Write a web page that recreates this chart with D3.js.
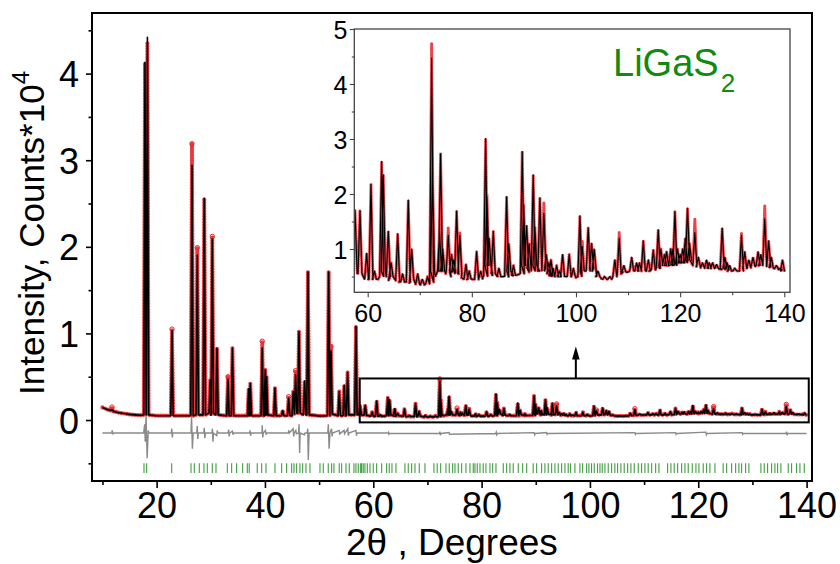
<!DOCTYPE html>
<html><head><meta charset="utf-8">
<script src="https://cdnjs.cloudflare.com/ajax/libs/d3/7.8.5/d3.min.js"></script>
<style>body{margin:0;background:#fff}svg{display:block;font-family:"Liberation Sans",Arial,sans-serif}</style>
</head><body><svg id="c" width="840" height="564"></svg>
<script>
// ---- data (intensity in units of 10^4 counts, position in degrees 2theta) ----
// background knots [2theta, level]
const bgKnots = [[10,0.145],[11,0.12],[12,0.1],[13,0.085],[14,0.075],[15,0.065],[16,0.06],[17,0.055],[20,0.05],[25,0.05],[30,0.055],[35,0.05],[40,0.05],[45,0.05],[50,0.048],[55,0.05],[57,0.06],
 [58,0.055],[60,0.045],[62,0.045],[64,0.043],[66,0.04],[68,0.038],[70,0.035],[71,0.036],[73,0.05],[75,0.055],[76,0.05],[78,0.048],[79,0.045],[80,0.045],[82,0.048],[84,0.052],[85,0.05],[86,0.05],[88,0.052],[91,0.058],[93,0.06],[95,0.052],[97,0.05],[99,0.05],[100,0.048],[104,0.05],[105,0.045],[106,0.045],[107,0.048],[109,0.058],[110,0.058],[112,0.06],[114,0.06],[116,0.065],[118,0.07],[120,0.075],[122,0.078],[124,0.07],[126,0.065],[128,0.063],[130,0.06],[131,0.06],[133,0.066],[135,0.07],[138,0.065],[140,0.06]];
// reflections [2theta, calculated top, observed top, local base]
const peaksLow = [[11.75,0.12,0.15,0.11],[17.85,4.13,4.12,0.06],[18.3,4.42,4.35,0.06],[22.84,1.03,1.05,0.05],[26.53,2.94,3.19,0.05],[27.51,1.905,1.99,0.06],[28.8,2.56,2.56,0.06],[29.9,0.46,0.46,0.08],[30.28,2.09,2.12,0.08],[31.14,0.83,0.83,0.06],[33.17,0.47,0.5,0.05],[34.0,0.83,0.83,0.05],[37.0,0.36,0.36,0.05],[37.3,0.42,0.42,0.05],[39.5,0.83,0.91,0.05],[40.06,0.58,0.58,0.06],[40.3,0.5,0.5,0.06],[41.85,0.37,0.37,0.05],[43.27,0.11,0.11,0.05],[44.38,0.25,0.27,0.05],[45.23,0.33,0.33,0.07],[45.66,0.52,0.57,0.08],[46.28,1.02,1.02,0.08],[47.33,0.45,0.45,0.06],[47.94,1.71,1.71,0.06],[51.76,1.71,1.71,0.05],[52.2,0.8,0.85,0.07],[53.72,0.33,0.33,0.05],[54.64,0.4,0.4,0.05],[55.26,0.55,0.55,0.06],[56.8,1.08,1.08,0.06]];
const peaksHigh = [[57.56,0.171,0.171,0.065],[58.52,0.17,0.17,0.055],[59.8,0.092,0.092,0.045],[60.63,0.218,0.218,0.045],[61.3,0.06,0.06,0.045],[62.68,0.259,0.259,0.05],[63.0,0.235,0.235,0.06],[63.96,0.132,0.132,0.05],[64.5,0.075,0.075,0.05],[65.76,0.127,0.127,0.043],[66.7,0.055,0.055,0.04],[67.8,0.189,0.189,0.04],[68.45,0.1,0.1,0.045],[69.6,0.055,0.055,0.036],[70.5,0.045,0.045,0.035],[71.5,0.05,0.05,0.036],[72.28,0.447,0.474,0.04],[72.45,0.24,0.24,0.06],[73.8,0.13,0.13,0.06],[74.0,0.273,0.273,0.06],[74.4,0.1,0.1,0.06],[75.47,0.125,0.138,0.06],[76.1,0.09,0.09,0.06],[76.5,0.08,0.08,0.058],[77.08,0.169,0.169,0.055],[77.7,0.125,0.13,0.055],[78.87,0.072,0.072,0.045],[79.5,0.06,0.06,0.045],[80.92,0.095,0.095,0.045],[81.7,0.06,0.06,0.046],[82.65,0.301,0.301,0.05],[82.9,0.195,0.2,0.07],[83.3,0.12,0.12,0.07],[84.12,0.132,0.132,0.055],[85.2,0.065,0.065,0.05],[86.68,0.195,0.195,0.05],[87.1,0.11,0.11,0.06],[88.0,0.07,0.07,0.052],[89.68,0.277,0.277,0.055],[89.95,0.18,0.18,0.07],[90.52,0.142,0.142,0.07],[91.0,0.11,0.11,0.065],[91.79,0.235,0.235,0.06],[92.1,0.14,0.14,0.07],[93.07,0.193,0.193,0.06],[93.84,0.165,0.185,0.065],[94.3,0.09,0.09,0.06],[94.8,0.075,0.075,0.055],[95.2,0.08,0.08,0.052],[95.6,0.065,0.065,0.05],[96.28,0.07,0.07,0.05],[96.8,0.06,0.06,0.05],[97.43,0.09,0.09,0.05],[98.7,0.09,0.09,0.05],[99.5,0.065,0.065,0.05],[100.75,0.16,0.16,0.05],[101.2,0.105,0.115,0.06],[102.35,0.138,0.138,0.06],[103.0,0.11,0.11,0.065],[103.5,0.1,0.1,0.06],[104.2,0.06,0.06,0.05],[105.5,0.05,0.05,0.045],[106.5,0.05,0.05,0.045],[107.47,0.08,0.08,0.05],[108.3,0.12,0.13,0.055],[109.2,0.07,0.07,0.058],[110.7,0.085,0.085,0.06],[111.65,0.075,0.075,0.06],[112.2,0.075,0.075,0.06],[112.93,0.115,0.115,0.06],[113.9,0.08,0.08,0.06],[114.85,0.098,0.098,0.062],[115.8,0.135,0.135,0.065],[116.3,0.1,0.1,0.07],[117.0,0.09,0.09,0.07],[117.4,0.095,0.095,0.07],[118.2,0.1,0.1,0.07],[118.6,0.1,0.1,0.072],[119.0,0.168,0.168,0.07],[119.5,0.1,0.1,0.075],[120.0,0.09,0.09,0.075],[120.5,0.1,0.1,0.075],[121.0,0.12,0.12,0.075],[121.42,0.174,0.174,0.08],[121.8,0.11,0.11,0.08],[122.83,0.13,0.155,0.07],[123.5,0.085,0.085,0.068],[124.3,0.075,0.075,0.066],[125.07,0.08,0.08,0.065],[125.6,0.075,0.075,0.065],[126.23,0.075,0.075,0.065],[127.0,0.072,0.072,0.064],[128.08,0.138,0.138,0.065],[128.6,0.085,0.085,0.065],[129.0,0.075,0.075,0.063],[129.5,0.07,0.07,0.06],[130.5,0.065,0.065,0.06],[131.78,0.125,0.13,0.06],[132.4,0.095,0.095,0.065],[133.2,0.08,0.08,0.066],[134.0,0.085,0.085,0.068],[134.97,0.095,0.095,0.07],[135.5,0.09,0.09,0.07],[136.25,0.155,0.18,0.07],[137.0,0.115,0.115,0.068],[137.5,0.085,0.085,0.066],[138.5,0.07,0.07,0.064],[139.2,0.065,0.065,0.062],[139.66,0.08,0.08,0.06]];
// difference curve (obs - calc, shifted) vertices
const diffPts = [[10,-0.15],[11.7,-0.15],[11.8,-0.12],[11.95,-0.16],[12.2,-0.15],[17.6,-0.15],[17.8,-0.05],[17.9,-0.25],[18.05,0.05],[18.25,-0.44],[18.45,-0.12],[18.6,-0.15],[22.7,-0.15],[22.8,-0.1],[22.9,-0.2],[23.0,-0.15],[26.35,-0.15],[26.45,0.04],[26.6,-0.33],[26.75,-0.15],[27.4,-0.15],[27.5,-0.07],[27.6,-0.22],[27.7,-0.15],[28.7,-0.15],[28.8,-0.09],[28.9,-0.21],[29.0,-0.15],[30.2,-0.15],[30.3,-0.1],[30.4,-0.25],[30.5,-0.15],[31.1,-0.18],[31.2,-0.12],[31.3,-0.15],[33.2,-0.15],[33.3,-0.11],[33.4,-0.19],[33.5,-0.15],[34.0,-0.13],[34.1,-0.17],[34.2,-0.15],[37.2,-0.15],[37.25,-0.12],[37.35,-0.18],[37.45,-0.15],[39.45,-0.15],[39.5,-0.06],[39.6,-0.2],[39.7,-0.15],[40.1,-0.12],[40.2,-0.17],[40.3,-0.15],[44.3,-0.15],[44.4,-0.12],[44.5,-0.15],[45.2,-0.1],[45.3,-0.19],[45.4,-0.15],[45.7,-0.12],[45.8,-0.16],[46.2,-0.15],[46.3,-0.05],[46.4,-0.38],[46.5,-0.15],[47.3,-0.17],[47.4,-0.15],[47.8,-0.15],[47.9,-0.1],[48.0,-0.46],[48.15,-0.15],[51.6,-0.15],[51.7,-0.05],[51.85,-0.33],[52.0,-0.15],[52.3,-0.1],[52.4,-0.19],[52.5,-0.15],[53.7,-0.12],[53.8,-0.16],[54.6,-0.12],[54.7,-0.16],[55.3,-0.1],[55.4,-0.18],[55.5,-0.15],[56.8,-0.12],[56.9,-0.18],[57.0,-0.15],[62.7,-0.15],[62.8,-0.14],[62.9,-0.165],[63.0,-0.155],[72.2,-0.155],[72.3,-0.135],[72.4,-0.175],[72.5,-0.155],[74.0,-0.145],[74.1,-0.165],[82.6,-0.155],[82.7,-0.14],[82.8,-0.17],[82.9,-0.155],[89.7,-0.145],[89.8,-0.17],[89.9,-0.155],[92.0,-0.145],[92.1,-0.165],[92.2,-0.155],[108.3,-0.145],[108.4,-0.165],[108.5,-0.155],[115.8,-0.145],[115.9,-0.165],[116,-0.155],[121.4,-0.14],[121.5,-0.17],[121.6,-0.155],[128.1,-0.145],[128.2,-0.165],[128.3,-0.155],[136.2,-0.155],[136.3,-0.135],[136.4,-0.175],[136.5,-0.155],[140,-0.155]];
// Bragg reflection positions (green ticks)
const braggPos = [17.67,18.16,22.78,26.35,26.96,27.88,28.74,29.36,30.28,30.96,33.05,33.85,34.77,35.88,36.74,37.1,38.58,39.39,40.19,41.85,43.08,44.0,44.93,45.36,45.85,46.46,46.96,47.57,48.31,50.16,50.77,51.69,52.31,52.74,53.72,54.16,54.96,55.57,56.43,56.8,57.23,57.67,58.15,58.9,
 57.85,58.46,59.39,60.0,60.62,61.55,62.47,62.95,63.45,64.19,65.85,66.46,67.08,67.7,68.49,69.54,71.2,71.81,72.44,73.42,74.03,74.65,75.08,75.69,76.31,77.11,77.85,78.46,78.77,79.2,79.7,80.3,80.8,81.54,82.04,82.65,84.0,84.62,85.23,85.84,86.77,87.58,88.32,89.53,90.16,91.08,91.69,92.3,92.93,93.54,94.15,94.77,95.39,95.99,96.43,97.23,98.15,98.65,99.39,
 99.81,100.3,100.8,101.4,101.85,102.27,102.77,103.38,104.0,104.6,105.1,105.72,106.33,106.96,107.57,108.18,108.92,109.54,110.15,110.76,111.39,112.13,112.74,114.34,114.95,115.56,116.19,116.93,117.54,118.15,118.89,119.57,120.12,120.92,121.54,122.15,123.08,124.6,125.24,126.16,126.9,127.5,128.0,128.74,129.35,131.57,132.18,132.8,133.54,134.15,134.65,135.26,136.61,137.23,138.15,138.77,139.57];
const mainXTicks = [20,40,60,80,100,120,140];
const mainXMinor = [10,30,50,70,90,110,130];
const mainYTicks = [0,1,2,3,4];
const mainYMinor = [-0.5,0.5,1.5,2.5,3.5,4.5];
const insetXTicks = [60,80,100,120,140];
const insetXMinor = [70,90,110,130];
const insetYTicks = [0.1,0.2,0.3,0.4,0.5];   // shown in units of 10^3
const insetYMinor = [0.05,0.15,0.25,0.35,0.45];

// ---- drawing ----
const svg = d3.select("#c");
const FONT = '"Liberation Sans",Arial,sans-serif';

function buildSeries(knots, peaks, w, idx, lo, hi){
  const items = knots.map(k=>({x:k[0],pts:[[k[0],k[1]]]}))
    .concat(peaks.map(p=>({x:p[0],pts:[[p[0]-w,p[3]],[p[0],p[idx]],[p[0]+w,p[3]]]})));
  items.sort((a,b)=>a.x-b.x);
  return items.filter(d=>d.x>=lo&&d.x<=hi).flatMap(d=>d.pts);
}
const allPeaks = peaksLow.concat(peaksHigh);

// main scales
const x = d3.scaleLinear().domain([8.07,141.0]).range([92,812]);
const y = d3.scaleLinear().domain([-0.704,4.70]).range([481,13]);

const gMain = svg.append("g");
gMain.append("defs").append("clipPath").attr("id","clipMain").append("rect")
  .attr("x",92).attr("y",13).attr("width",720).attr("height",468);
const dm = gMain.append("g").attr("clip-path","url(#clipMain)");
const lineM = d3.line().x(d=>x(d[0])).y(d=>y(d[1]));
const obsM = buildSeries(bgKnots, allPeaks, 0.22, 2, 0, 200);
const calcM = buildSeries(bgKnots, allPeaks, 0.22, 1, 0, 200);
dm.append("path").attr("d",lineM(obsM)).attr("fill","none").attr("stroke","#e4252b")
  .attr("stroke-width",4.2).attr("stroke-linecap","round").attr("stroke-dasharray","0 2.8").attr("opacity",0.9);
dm.selectAll("circle.obs").data(allPeaks.filter(p=>p[2]>p[1]+0.005)).join("circle")
  .attr("cx",d=>x(d[0])).attr("cy",d=>y(d[2])).attr("r",2.2).attr("fill","none").attr("stroke","#e4252b").attr("stroke-width",1);
dm.append("path").attr("d",lineM(calcM)).attr("fill","none").attr("stroke","#000").attr("stroke-width",1.6).attr("stroke-linejoin","round");
dm.append("path").attr("d",lineM(diffPts)).attr("fill","none").attr("stroke","#8a8a8a").attr("stroke-width",1.4);
dm.selectAll("line.bragg").data(braggPos).join("line")
  .attr("x1",d=>x(d)).attr("x2",d=>x(d)).attr("y1",y(-0.5)).attr("y2",y(-0.612))
  .attr("stroke","#1f8f1f").attr("stroke-width",1.1).attr("opacity",0.85);

// zoom box + arrow
gMain.append("rect").attr("x",x(57.5)).attr("y",y(0.48)).attr("width",x(140.4)-x(57.5)).attr("height",y(-0.027)-y(0.48))
  .attr("fill","none").attr("stroke","#000").attr("stroke-width",2);
const ax = x(97.4);
gMain.append("line").attr("x1",ax).attr("x2",ax).attr("y1",y(0.48)).attr("y2",y(0.80)).attr("stroke","#000").attr("stroke-width",2);
gMain.append("path").attr("d",`M${ax},${y(0.85)} L${ax-3.8},${y(0.85)+13} L${ax+3.8},${y(0.85)+13} Z`).attr("fill","#000");

// main frame and axes
gMain.append("rect").attr("x",92).attr("y",13).attr("width",720).attr("height",468).attr("fill","none").attr("stroke","#000").attr("stroke-width",2);
const gx = gMain.append("g").attr("transform","translate(0,481)");
gx.call(d3.axisBottom(x).tickValues(mainXTicks).tickSize(7).tickFormat(d3.format("d")));
gx.append("g").call(d3.axisBottom(x).tickValues(mainXMinor).tickSize(4).tickFormat(""));
gx.selectAll(".domain").remove();
gx.selectAll("line").attr("stroke","#000").attr("stroke-width",1.6);
gx.selectAll("text").attr("font-family",FONT).attr("font-size",36).attr("fill","#000").attr("y",11).attr("dy","0.71em");
const gy = gMain.append("g").attr("transform","translate(92,0)");
gy.call(d3.axisLeft(y).tickValues(mainYTicks).tickSize(6).tickFormat(d3.format("d")));
gy.append("g").call(d3.axisLeft(y).tickValues(mainYMinor).tickSize(3.5).tickFormat(""));
gy.selectAll(".domain").remove();
gy.selectAll("line").attr("stroke","#000").attr("stroke-width",1.6);
gy.selectAll("text").attr("font-family",FONT).attr("font-size",36).attr("fill","#000").attr("x",-13).attr("dy","0.36em");

// axis titles
const yt = svg.append("text").attr("transform","translate(44,395) rotate(-90)").attr("font-family",FONT).attr("font-size",35).attr("fill","#000");
yt.append("tspan").text("Intensity, Counts*10");
yt.append("tspan").attr("font-size",24).attr("dy",-15).text("4");
svg.append("text").attr("x",346).attr("y",555).attr("font-family",FONT).attr("font-size",37).attr("fill","#000").text("2θ , Degrees");

// ---- inset ----
const xi = d3.scaleLinear().domain([57.43,141.1]).range([354.3,790]);
const yi = d3.scaleLinear().domain([0.0213,0.5]).range([292.3,29]);
const gI = svg.append("g");
gI.append("rect").attr("x",354.3).attr("y",29).attr("width",435.7).attr("height",263.3).attr("fill","#fff");
gI.append("defs").append("clipPath").attr("id","clipIn").append("rect")
  .attr("x",354.3).attr("y",29).attr("width",435.7).attr("height",263.3);
const di = gI.append("g").attr("clip-path","url(#clipIn)");
const lineI = d3.line().x(d=>xi(d[0])).y(d=>yi(d[1]));
const obsI = buildSeries(bgKnots, peaksHigh, 0.38, 2, 56, 142);
const calcI = buildSeries(bgKnots, peaksHigh, 0.38, 1, 56, 142);
di.append("path").attr("d",lineI(obsI)).attr("fill","none").attr("stroke","#e4252b")
  .attr("stroke-width",3.2).attr("stroke-linecap","round").attr("stroke-dasharray","0 2.3").attr("opacity",0.85);
di.append("path").attr("d",lineI(calcI)).attr("fill","none").attr("stroke","#000").attr("stroke-width",1.1).attr("stroke-linejoin","round");
gI.append("rect").attr("x",354.3).attr("y",29).attr("width",435.7).attr("height",263.3).attr("fill","none").attr("stroke","#444").attr("stroke-width",1.3);
const gxi = gI.append("g").attr("transform","translate(0,292.3)");
gxi.call(d3.axisBottom(xi).tickValues(insetXTicks).tickSize(5).tickFormat(d3.format("d")));
gxi.append("g").call(d3.axisBottom(xi).tickValues(insetXMinor).tickSize(3).tickFormat(""));
gxi.selectAll(".domain").remove();
gxi.selectAll("line").attr("stroke","#444").attr("stroke-width",1.1);
gxi.selectAll("text").attr("font-family",FONT).attr("font-size",25).attr("fill","#000").attr("y",12).attr("dy","0.71em");
const gyi = gI.append("g").attr("transform","translate(354.3,0)");
gyi.call(d3.axisLeft(yi).tickValues(insetYTicks).tickSize(4.5).tickFormat(d=>d3.format("d")(Math.round(d*10))));
gyi.append("g").call(d3.axisLeft(yi).tickValues(insetYMinor).tickSize(2.5).tickFormat(""));
gyi.selectAll(".domain").remove();
gyi.selectAll("line").attr("stroke","#444").attr("stroke-width",1.1);
gyi.selectAll("text").attr("font-family",FONT).attr("font-size",25).attr("fill","#000").attr("x",-7).attr("dy","0.36em");

const lab = svg.append("text").attr("x",613).attr("y",76).attr("font-family",FONT).attr("font-size",38).attr("fill","#108a10");
lab.append("tspan").text("LiGaS");
lab.append("tspan").attr("font-size",26).attr("dy",16).attr("dx",2).text("2");
</script></body></html>
